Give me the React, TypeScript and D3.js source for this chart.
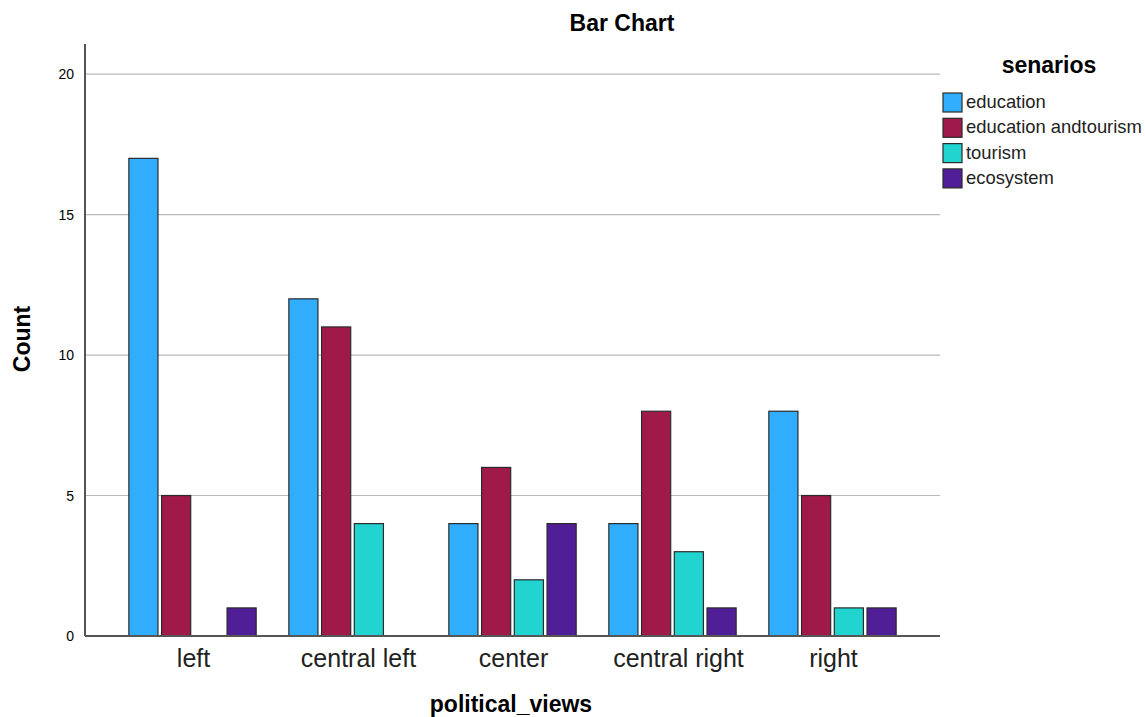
import React from "react";
import * as d3 from "d3";

const categories = ["left", "central left", "center", "central right", "right"];
const seriesNames = ["education", "education andtourism", "tourism", "ecosystem"];
const education = [17, 12, 4, 4, 8];
const educationTourism = [5, 11, 6, 8, 5];
const tourism = [0, 4, 2, 3, 1];
const ecosystem = [1, 0, 4, 1, 1];
const yTicks = [0, 5, 10, 15, 20];
const colors = ["#31adfd", "#a0194b", "#22d4d0", "#501f97"];

const W = 1145;
const H = 717;
const left = 85;
const right = 940;
const top = 44;
const bottom = 636;

export default function App() {
  const series = [education, educationTourism, tourism, ecosystem];
  const x0 = d3.scaleBand<string>().domain(categories).range([left, right]).paddingInner(0.198).paddingOuter(0.271);
  const x1 = d3.scaleBand<string>().domain(seriesNames).range([0, x0.bandwidth()]).paddingInner(0.08);
  const y = d3.scaleLinear().domain([0, 21.07]).range([bottom, top]);
  const font = "Arial, 'Liberation Sans', sans-serif";

  return (
    <svg width={W} height={H} style={{ position: "absolute", left: 0, top: 0, background: "#fff" }} fontFamily={font}>
      <text x={622} y={31} textAnchor="middle" fontSize={23} fontWeight="bold" fill="#000">Bar Chart</text>
      {yTicks.filter(t => t > 0).map(t => (
        <line key={"g" + t} x1={left} x2={right} y1={y(t)} y2={y(t)} stroke="#b9b9b9" strokeWidth={1.2} />
      ))}
      {yTicks.map(t => (
        <text key={"t" + t} x={74} y={y(t) + 5} textAnchor="end" fontSize={14} fill="#000">{t}</text>
      ))}
      {categories.map((c, ci) => (
        <g key={c}>
          {seriesNames.map((s, si) => {
            const v = series[si][ci];
            if (!v) return null;
            return (
              <rect key={s} x={(x0(c) as number) + (x1(s) as number) + 0.5} y={y(v)} width={x1.bandwidth() - 1} height={bottom - y(v)}
                fill={colors[si]} stroke="#2b2b2b" strokeWidth={1.2} />
            );
          })}
          <text x={(x0(c) as number) + x0.bandwidth() / 2 + (c.includes(" ") ? 6 : 1)} y={667} textAnchor="middle" fontSize={25} fill="#222">{c}</text>
        </g>
      ))}
      <line x1={left} x2={left} y1={top} y2={bottom} stroke="#555" strokeWidth={2} />
      <line x1={left} x2={right} y1={bottom} y2={bottom} stroke="#555" strokeWidth={2} />
      <text transform={`translate(30,339) rotate(-90)`} textAnchor="middle" fontSize={23} fontWeight="bold" fill="#000">Count</text>
      <text x={511} y={712} textAnchor="middle" fontSize={23} fontWeight="bold" fill="#000">political_views</text>
      <text x={1049} y={73} textAnchor="middle" fontSize={23} fontWeight="bold" fill="#000">senarios</text>
      {seriesNames.map((s, si) => (
        <g key={s} transform={`translate(943,${93 + si * 25.3})`}>
          <rect x={0} y={0} width={19} height={19} fill={colors[si]} stroke="#2b2b2b" strokeWidth={1.2} />
          <text x={23} y={15} fontSize={18.4} fill="#222">{s}</text>
        </g>
      ))}
    </svg>
  );
}
